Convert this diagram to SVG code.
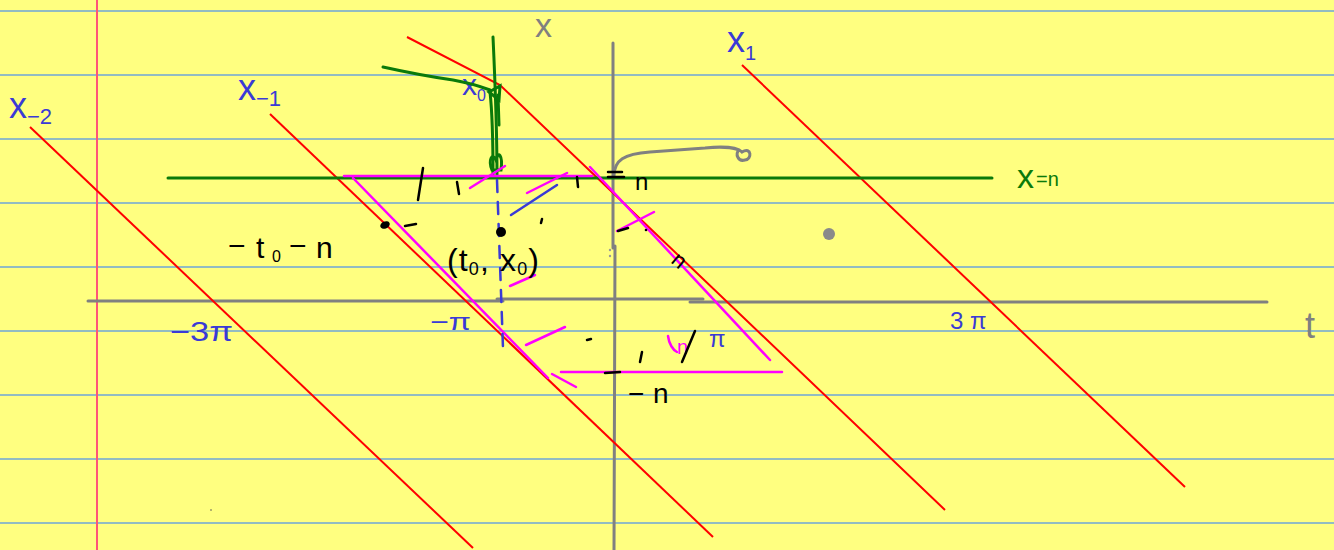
<svg xmlns="http://www.w3.org/2000/svg" width="1334" height="550" viewBox="0 0 1334 550">
<style>
.rule{stroke:#6ea6d8;stroke-width:1.5}
.red{stroke:#ff0000;stroke-width:2;fill:none}
.mag{stroke:#ff00ff;stroke-width:2.5;fill:none;stroke-linecap:round}
.ink{stroke:#000;stroke-width:2.5;fill:none;stroke-linecap:round}
.bl{stroke:#3a3ad6;stroke-width:2.5;fill:none;stroke-linecap:round}
.gr{stroke:#808080;stroke-width:3;fill:none;stroke-linecap:round}
.grn{stroke:#0a7a0a;stroke-width:3;fill:none;stroke-linecap:round}
text{font-family:"Liberation Sans",sans-serif}
.tb{fill:#3a3ad6}
.tk{fill:#000}
.tg{fill:#808080}
.tgr{fill:#0a7a0a}
.tm{fill:#ff00ff}
</style>
<rect width="1334" height="550" fill="#ffff80"/>
<g id="paper">
<line class="rule" x1="0" y1="11" x2="1334" y2="11"/>
<line class="rule" x1="0" y1="75" x2="1334" y2="75"/>
<line class="rule" x1="0" y1="139" x2="1334" y2="139"/>
<line class="rule" x1="0" y1="203" x2="1334" y2="203"/>
<line class="rule" x1="0" y1="267" x2="1334" y2="267"/>
<line class="rule" x1="0" y1="331" x2="1334" y2="331"/>
<line class="rule" x1="0" y1="395" x2="1334" y2="395"/>
<line class="rule" x1="0" y1="459" x2="1334" y2="459"/>
<line class="rule" x1="0" y1="523" x2="1334" y2="523"/>
<line x1="97" y1="0" x2="97" y2="550" stroke="#ff5577" stroke-width="2"/>
</g>
<g id="axes">
<line class="gr" x1="88" y1="301" x2="503" y2="301"/>
<line class="gr" x1="497" y1="299" x2="703" y2="299"/>
<line class="gr" x1="690" y1="302" x2="1267" y2="302"/>
<line class="gr" x1="613" y1="43" x2="613" y2="248"/>
<line class="gr" x1="615" y1="246" x2="614" y2="550"/>
<text class="tg" x="535" y="37" font-size="34" font-weight="300">x</text>
<text class="tg" x="1305" y="338" font-size="36">t</text>
<path class="gr" d="M614,176 C614,160 624,154 650,152 L705,148 C725,146 738,148 742,152 C752,146 752,160 745,160 C738,162 735,154 739,150" stroke-width="2.5"/>
<circle cx="829" cy="234" r="6" fill="#8a8a8a"/>
<circle cx="610" cy="250" r="1.2" fill="#999"/>
<circle cx="610" cy="256" r="1.2" fill="#999"/>
</g>
<g id="characteristics">
<line class="red" x1="30" y1="127" x2="473" y2="548"/>
<line class="red" x1="270" y1="114" x2="713" y2="537"/>
<polyline class="red" points="407,37 500,85 945,510"/>
<line class="red" x1="742" y1="65" x2="1185" y2="487"/>
<text class="tb" x="9" y="118" font-size="36">x<tspan font-size="22" dy="6">−2</tspan></text>
<text class="tb" x="238" y="100" font-size="36">x<tspan font-size="22" dy="6">−1</tspan></text>
<text class="tb" x="462" y="95" font-size="30">x<tspan font-size="16" dy="6">0</tspan></text>
<text class="tb" x="727" y="52" font-size="36">x<tspan font-size="20" dy="8">1</tspan></text>
</g>
<g id="green">
<line class="grn" x1="168" y1="178" x2="992" y2="178"/>
<path class="grn" d="M383,67 C410,73 425,76 453,80 C470,83 482,87 490,90"/>
<path class="grn" d="M493,37 C495,80 497,130 497,176" stroke-width="4"/>
<path class="grn" d="M490,92 C492,110 493,140 493,175"/>
<path class="grn" d="M498,95 L499,125"/>
<path class="grn" d="M489,92 L500,86 L499,100 Z" fill="#0a7a0a"/>
<path class="grn" d="M492,170 C488,160 492,152 496,160 C498,150 503,155 501,170 Z" fill="#0a7a0a" stroke-width="2"/>
<text class="tgr" x="1017" y="188" font-size="34">x<tspan font-size="20" dx="2" dy="-2">=n</tspan></text>
</g>
<g id="region">
<line class="mag" x1="344" y1="176" x2="592" y2="176"/>
<line class="mag" x1="590" y1="167" x2="770" y2="360"/>
<line class="mag" x1="353" y1="178" x2="548" y2="378"/>
<line class="mag" x1="561" y1="372" x2="782" y2="372"/>
<line class="mag" x1="470" y1="188" x2="505" y2="166"/>
<line class="mag" x1="527" y1="193" x2="567" y2="173"/>
<line class="mag" x1="617" y1="231" x2="654" y2="212"/>
<line class="mag" x1="510" y1="286" x2="535" y2="275"/>
<line class="mag" x1="526" y1="345" x2="565" y2="327"/>
<line class="mag" x1="552" y1="374" x2="576" y2="387"/>
<path class="mag" d="M668,336 C669,344 673,350 677,352"/>
<text class="tm" x="677" y="354" font-size="20">n</text>
</g>
<g id="marks">
<line class="bl" x1="497" y1="180" x2="503" y2="348" stroke-dasharray="12 10"/>
<line class="bl" x1="511" y1="215" x2="557" y2="185"/>
<line class="ink" x1="418" y1="200" x2="423" y2="168"/>
<line class="ink" x1="457" y1="182" x2="459" y2="194"/>
<line class="ink" x1="577" y1="177" x2="578" y2="187"/>
<line class="ink" x1="608" y1="172" x2="622" y2="172" stroke-width="3"/>
<line class="ink" x1="608" y1="177" x2="624" y2="177" stroke-width="3"/>
<text class="tk" x="635" y="190" font-size="24">n</text>
<line class="ink" x1="618" y1="231" x2="628" y2="228"/>
<circle cx="646" cy="230" r="1.3" fill="#000"/>
<text class="tk" font-size="22" transform="translate(670,262) rotate(40)">n</text>
<ellipse cx="385" cy="225" rx="5" ry="3.5" fill="#000" transform="rotate(-25 385 225)"/>
<line class="ink" x1="405" y1="226" x2="416" y2="224"/>
<circle cx="501" cy="232" r="5" fill="#000"/>
<line class="ink" x1="542" y1="219" x2="541" y2="223"/>
<text class="tk" font-size="30"><tspan x="228" y="256">−</tspan><tspan x="256" y="258">t</tspan><tspan x="272" y="262" font-size="16">0</tspan><tspan x="289" y="256">−</tspan><tspan x="316" y="258">n</tspan></text>
<text class="tk" x="447" y="271" font-size="32" textLength="92" lengthAdjust="spacing">(t<tspan font-size="18" dy="4">0</tspan><tspan dy="-4">, x</tspan><tspan font-size="18" dy="4">0</tspan><tspan dy="-4">)</tspan></text>
<line class="ink" x1="587" y1="340" x2="591" y2="339"/>
<line class="ink" x1="642" y1="352" x2="640" y2="362"/>
<line class="ink" x1="682" y1="362" x2="695" y2="331"/>
<line class="ink" x1="605" y1="373" x2="620" y2="372" stroke-width="4"/>
<text class="tk" font-size="28"><tspan x="628" y="403">−</tspan><tspan x="653" y="403">n</tspan></text>
<text class="tb" x="430" y="330" font-size="24" textLength="41" lengthAdjust="spacingAndGlyphs">−π</text>
<text class="tb" x="170" y="341" font-size="28" textLength="63" lengthAdjust="spacingAndGlyphs">−3π</text>
<text class="tb" x="709" y="347" font-size="24">π</text>
<text class="tb" x="950" y="329" font-size="24">3 π</text>
<circle cx="211" cy="510" r="0.8" fill="#555"/>
</g>
</svg>
